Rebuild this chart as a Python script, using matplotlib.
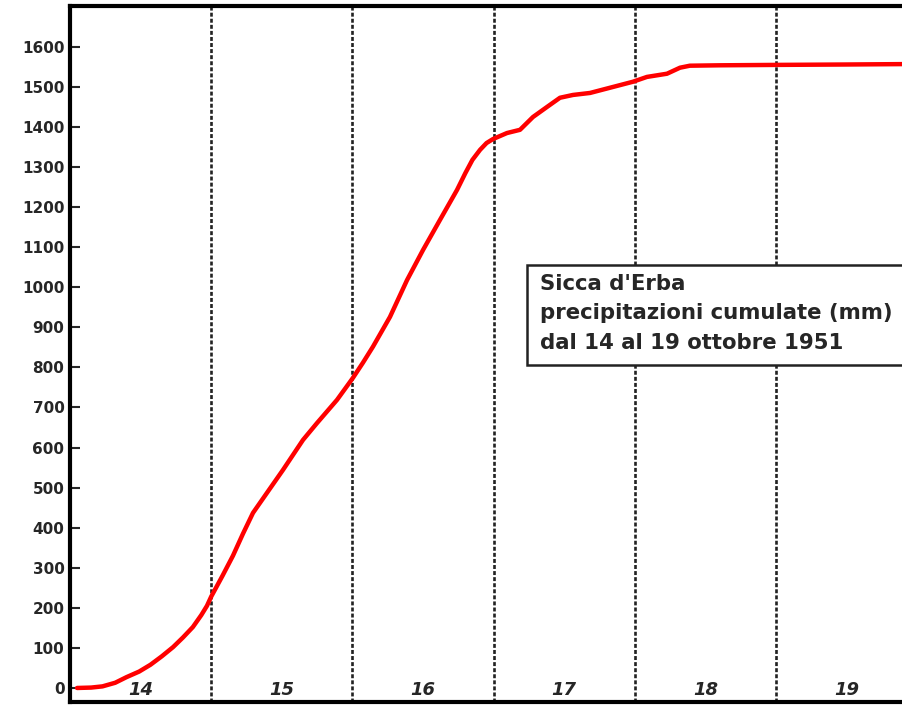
import matplotlib.pyplot as plt
import numpy as np
from matplotlib.patches import Rectangle

# cumulative rain, Sicca d'Erba, 14-19 Oct 1951 (time in days from 14th 00:00)
t_days = [0.05, 0.15, 0.23, 0.32, 0.40, 0.49, 0.57, 0.65, 0.73, 0.80, 0.87,
          0.93, 0.97, 1.0, 1.08, 1.154, 1.225, 1.296, 1.395, 1.508, 1.650,
          1.749, 1.891, 2.004, 2.075, 2.146, 2.266, 2.387, 2.5, 2.62, 2.741,
          2.80, 2.85, 2.904, 2.95, 2.996, 3.095, 3.187, 3.279, 3.378, 3.47,
          3.562, 3.683, 3.846, 3.987, 4.086, 4.228, 4.32, 4.39, 4.6, 5.0,
          5.5, 5.9]
rain_mm = [0, 1, 4, 13, 27, 41, 58, 79, 102, 126, 152,
           182, 205, 228, 280, 330, 385, 437, 487, 544, 619,
           661, 719, 774, 812, 852, 926, 1018, 1093, 1168, 1243,
           1285, 1318, 1343, 1360, 1370, 1385, 1393, 1425, 1450, 1473,
           1480, 1485, 1500, 1513, 1525, 1533, 1548, 1553, 1554, 1555,
           1556, 1557]
day_labels = ['14', '15', '16', '17', '18', '19']
y_ticks = list(range(0, 1700, 100))

plt.rcParams['font.family'] = ['DejaVu Sans']
txt_col = '#262626'

fig = plt.figure(figsize=(9.02, 7.05), dpi=100)
ax = fig.add_axes([70 / 902, 3 / 705, 832 / 902, 696 / 705])

ax.plot(t_days, rain_mm, color='#ff0000', lw=3.2, solid_capstyle='round',
        solid_joinstyle='round', zorder=3)

for d in range(1, len(day_labels)):
    ax.axvline(d, color='#222222', lw=1.9, ls=(0, (1.5, 0.8)), zorder=2)

for i, lab in enumerate(day_labels):
    ax.text(i + 0.5, -5, lab, ha='center', va='center', fontsize=13,
            fontweight='bold', fontstyle='italic', color=txt_col)

ax.set_xlim(0, 832 / 141.2)
ax.set_ylim(-35, 1702)
ax.set_xticks([])
ax.set_yticks(y_ticks)
ax.set_yticklabels([str(v) for v in y_ticks], fontweight='bold', color=txt_col)
ax.tick_params(axis='y', direction='in', length=7, width=1.5, labelsize=11,
               pad=4, colors=txt_col, labelcolor=txt_col)

for s in ['left', 'top', 'bottom']:
    ax.spines[s].set_linewidth(3)
    ax.spines[s].set_color('black')
ax.spines['right'].set_visible(False)

# legend box runs off the right edge of the picture
box = Rectangle((0.5493, 0.4842), 0.5, 0.1437, transform=ax.transAxes,
                fc='white', ec='#222222', lw=1.8, zorder=5, clip_on=False)
ax.add_patch(box)
ax.text(0.5645, 0.6147,
        "Sicca d'Erba\nprecipitazioni cumulate (mm)\ndal 14 al 19 ottobre 1951",
        transform=ax.transAxes, ha='left', va='top', fontsize=15.3,
        fontweight='bold', color=txt_col, linespacing=1.58, zorder=6)

fig.savefig('out.png', dpi=100)
